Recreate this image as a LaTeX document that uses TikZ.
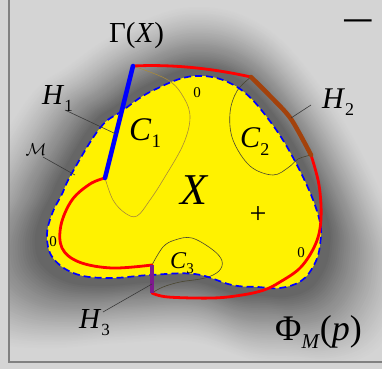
\documentclass[tikz,border=0pt]{standalone}
\usepackage{fontspec}
\setmainfont{Liberation Serif}
\definecolor{dk}{HTML}{666666}
\definecolor{lt}{HTML}{D4D4D4}
\definecolor{hbrown}{HTML}{A3420C}
\definecolor{hpurple}{HTML}{7E1A8E}
\definecolor{cone}{HTML}{A88A3A}
\definecolor{cdark}{HTML}{4A4630}
\definecolor{leader}{HTML}{3A3A3A}
\tikzset{
  blob/.style={insert path={plot[smooth cycle,tension=0.65] coordinates{
    (72,173) (100,128) (122,111) (152,91) (195,76) (237,87) (272,124) (301,173)
    (319,218) (320,245) (314,265) (301,281) (280,288) (258,287) (232,285) (195,274) (150,275)
    (110,278) (76,274) (53,258) (47,236) (52,214) (62,194)}}},
  redline/.style={draw=red,line width=2.8pt,line cap=round,line join=round},
  thinc/.style={line width=0.6pt},
  leadline/.style={draw=leader,line width=0.6pt},
  lbl/.style={inner sep=0pt,anchor=base west},
}
\begin{document}
\begin{tikzpicture}[x=1pt,y=-1pt]
\useasboundingbox (0,0) rectangle (382,369);
\fill[lt] (0,0) rectangle (382,369);
\begin{scope}
\clip (9,0) rectangle (382,362);
\foreach \i in {0,...,45}{
  \pgfmathsetmacro\s{1.72-\i*0.016}
  \pgfmathtruncatemacro\p{min(100,100*(\i/40)^1.3)}
  \fill[dk!\p!lt, scale around={\s:(200,176)}, blob];
}
\end{scope}
\draw[gray,line width=1.4pt] (9,0) -- (9,362) -- (382,362);

% region X
\fill[yellow, blob];

\coordinate (h1t) at (133,66);
\coordinate (h1b) at (105,178);
\coordinate (h2t) at (251,77);
\coordinate (h2b) at (311,155);
\coordinate (h3t) at (152,265);
\coordinate (h3b) at (152,293);

% C regions
\draw[cone,thinc] plot[smooth,tension=0.6] coordinates{(h1t) (168,80) (184,98) (190,118) (183,145) (163,180) (150,200) (137,216) (125,213) (113,200) (h1b)};
\draw[cdark,thinc] plot[smooth,tension=0.6] coordinates{(h2t) (237,91) (230,113) (233,140) (250,166) (273,175) (289,167) (298,159) (h2b)};
\draw[cdark,thinc] plot[smooth,tension=0.6] coordinates{(h3t) (163,247) (175,240) (192,238) (213,250) (222,261) (219,271) (205,278) (180,282) (163,287) (h3b)};

% boundary of M
\draw[blue,line width=1.7pt,dash pattern=on 7pt off 4pt, blob];

% red curve
\draw[redline] (h1t) .. controls (175,64) and (215,69) .. (h2t);
\draw[redline] plot[smooth,tension=0.6] coordinates{(h1b) (90,184) (72,200) (61,225) (62,248) (79,262) (112,268) (h3t)};
\draw[redline] plot[smooth,tension=0.6] coordinates{(h3b) (168,297) (213,298) (242,295) (264,290) (280,282) (301,267) (316,243) (321,218) (319,185) (h2b)};

% H pieces
\draw[blue,line width=4.5pt,line cap=round] (h1t) -- (h1b);
\draw[hbrown,line width=4.5pt,line cap=round] plot[smooth] coordinates{(h2t) (271,97) (291,119) (h2b)};
\draw[hpurple,line width=4pt] (h3t) -- (h3b);

% leaders
\coordinate (l1a) at (65,110); \coordinate (l1b) at (116,134);
\coordinate (lma) at (43,157); \coordinate (lmb) at (75,175);
\coordinate (l2a) at (311,105); \coordinate (l2b) at (291,118);
\coordinate (l3a) at (103,312); \coordinate (l3b) at (152,284);
\draw[leadline] (l1a) -- (l1b);
\draw[leadline] (lma) -- (lmb);
\draw[leadline] (l2a) -- (l2b);
\draw[leadline] (l3a) -- (l3b);

% labels
\node[lbl] (gam) at (109,42) {\fontsize{29}{29}\selectfont Γ(\textit{X})};
\node[lbl] (H1) at (42,104) {\fontsize{29}{29}\selectfont\textit{H}\raisebox{-7pt}{\fontsize{17}{17}\selectfont 1}};
\node[lbl] (H2) at (322,108) {\fontsize{30}{30}\selectfont\textit{H}\raisebox{-7pt}{\fontsize{18}{18}\selectfont 2}};
\node[lbl] (H3) at (79,328) {\fontsize{29}{29}\selectfont\textit{H}\raisebox{-7pt}{\fontsize{17}{17}\selectfont 3}};
\node[inner sep=0pt] (M) at (36,150) {\fontsize{18}{18}\selectfont$\mathcal{M}$};
\node[lbl] (C1) at (129,140) {\fontsize{33}{33}\selectfont\textit{C}\raisebox{-7pt}{\fontsize{19}{19}\selectfont 1}};
\node[lbl] (C2) at (240,147) {\fontsize{30}{30}\selectfont\textit{C}\raisebox{-8pt}{\fontsize{18}{18}\selectfont 2}};
\node[lbl] (C3) at (170,268) {\fontsize{24}{24}\selectfont\textit{C}\raisebox{-5pt}{\fontsize{15}{15}\selectfont 3}};
\node[lbl] (X) at (180,204) {\fontsize{44}{44}\selectfont\textit{X}};
\node[inner sep=0pt] (plus) at (258,215) {\fontsize{30}{30}\selectfont +};
\node[lbl] (minus) at (341,35) {\fontsize{44}{44}\selectfont\scalebox{1.35}[1]{−}};
\node[inner sep=0pt] (z1) at (197,93) {\fontsize{15}{15}\selectfont 0};
\node[inner sep=0pt] (z2) at (53,242) {\fontsize{15}{15}\selectfont 0};
\node[inner sep=0pt] (z3) at (301,253) {\fontsize{15}{15}\selectfont 0};
\node[lbl] (phi) at (275,340) {\fontsize{36}{36}\selectfont Φ\raisebox{-8pt}{\fontsize{21}{21}\selectfont\textit{M}}(\textit{p})};
\end{tikzpicture}
\end{document}
